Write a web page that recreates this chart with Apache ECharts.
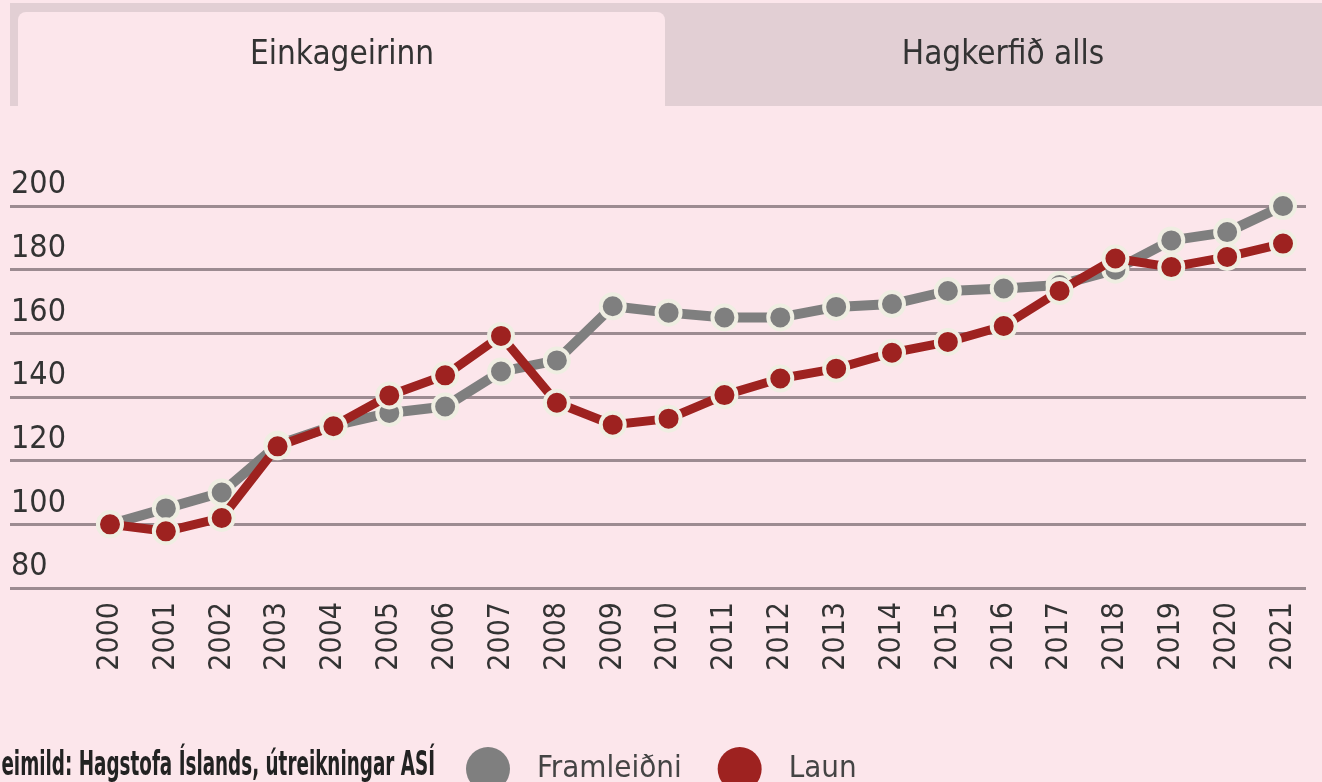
<!DOCTYPE html>
<html>
<head>
<meta charset="utf-8">
<script src="https://cdn.jsdelivr.net/npm/echarts@6/dist/echarts.min.js"></script>
<style>
html,body{margin:0;padding:0;background:#fce6eb;}
#chart{width:1322px;height:782px;}
</style>
</head>
<body>
<div id="chart"></div>
<script>
const years = ['2000','2001','2002','2003','2004','2005','2006','2007','2008','2009','2010','2011','2012','2013','2014','2015','2016','2017','2018','2019','2020','2021'];
const framleidni = [100, 105, 110, 125, 131, 135, 137, 148, 151.5, 168.5, 166.5, 165, 165, 168.3, 169.2, 173.3, 174.1, 175.2, 180, 189.2, 191.8, 200];
const laun = [100, 97.8, 102, 124.5, 130.8, 140.5, 146.8, 159.2, 138.2, 131.3, 133.2, 140.6, 145.8, 148.9, 153.9, 157.3, 162.3, 173.3, 183.5, 180.8, 184, 188.2];
const yTicks = [80, 100, 120, 140, 160, 180, 200];
const tabLabels = ['Einkageirinn', 'Hagkerfið alls'];
const sourceText = 'Heimild: Hagstofa Íslands, útreikningar ASÍ';
const seriesNames = ['Framleiðni', 'Laun'];

const BG = '#fce6eb';
const chart = echarts.init(document.getElementById('chart'), null, {renderer: 'canvas'});
const F = '"DejaVu Sans Condensed", "DejaVu Sans", sans-serif';

chart.setOption({
  backgroundColor: BG,
  animation: false,
  graphic: [
    {type: 'rect', shape: {x: 10, y: 3, width: 1312, height: 103}, style: {fill: '#e2cfd4'}, silent: true},
    {type: 'rect', shape: {x: 18, y: 12, width: 647, height: 94, r: [8, 8, 0, 0]}, style: {fill: BG}, silent: true},
    {type: 'text', x: 342, y: 55, style: {text: tabLabels[0], font: '33px ' + F, fill: '#333', textAlign: 'center', textVerticalAlign: 'middle'}},
    {type: 'text', x: 1003, y: 55, style: {text: tabLabels[1], font: '33px ' + F, fill: '#333', textAlign: 'center', textVerticalAlign: 'middle'}},
    {type: 'text', x: 435, y: 766, scaleX: 0.6, style: {text: sourceText, font: 'bold 34px ' + F, fill: '#222', textAlign: 'right', textVerticalAlign: 'middle'}}
  ],
  legend: {
    data: seriesNames,
    left: 461,
    top: 742,
    icon: 'circle',
    itemWidth: 44,
    itemHeight: 44,
    itemGap: 36,
    itemStyle: {borderWidth: 0},
    textStyle: {fontFamily: F, fontSize: 31, color: '#444', padding: [0, 0, 0, 22]}
  },
  grid: [
    {left: 10, right: 16, top: 206, bottom: 194},
    {left: 110, right: 39, top: 206, bottom: 194}
  ],
  xAxis: [
    {gridIndex: 0, type: 'value', min: 0, max: 1, show: false},
    {gridIndex: 1, type: 'category', data: years, boundaryGap: false,
     axisLine: {show: false}, axisTick: {show: false},
     axisLabel: {rotate: 90, margin: 14, fontFamily: F, fontSize: 30, color: '#333', interval: 0}}
  ],
  yAxis: [
    {gridIndex: 0, type: 'value', min: yTicks[0], max: yTicks[yTicks.length - 1], interval: 20,
     axisLine: {show: false}, axisTick: {show: false},
     splitLine: {show: true, lineStyle: {color: '#9c8b91', width: 3}},
     axisLabel: {inside: true, margin: 1, verticalAlign: 'bottom', padding: [0, 0, 5, 0],
       fontFamily: F, fontSize: 32, color: '#333', showMinLabel: true, showMaxLabel: true}},
    {gridIndex: 1, type: 'value', min: yTicks[0], max: yTicks[yTicks.length - 1], interval: 20, show: false, splitLine: {show: false}}
  ],
  series: [
    {name: seriesNames[0], type: 'line', xAxisIndex: 1, yAxisIndex: 1, data: framleidni,
     lineStyle: {color: '#7f7f7f', width: 10}, symbol: 'circle', symbolSize: 24,
     itemStyle: {color: '#7f7f7f', borderColor: '#efeee2', borderWidth: 4}, z: 3},
    {name: seriesNames[1], type: 'line', xAxisIndex: 1, yAxisIndex: 1, data: laun,
     lineStyle: {color: '#9e2220', width: 9}, symbol: 'circle', symbolSize: 24,
     itemStyle: {color: '#9e2220', borderColor: '#efeee2', borderWidth: 4}, z: 4}
  ]
});
</script>
</body>
</html>
